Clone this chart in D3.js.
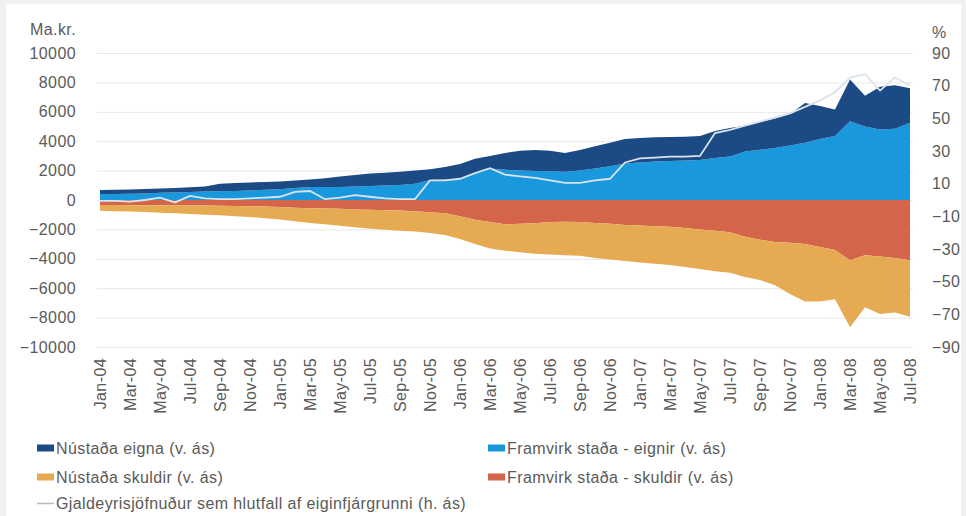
<!DOCTYPE html>
<html>
<head>
<meta charset="utf-8">
<script src="https://cdn.jsdelivr.net/npm/d3@7/dist/d3.min.js"></script>
<style>
  html, body { margin: 0; padding: 0; background: #f0f1f3; }
  svg text { font-family: "Liberation Sans", Arial, sans-serif; fill: #5a5a5a; letter-spacing: 0.4px; }
</style>
</head>
<body>
<svg id="chart" width="966" height="516"></svg>
<script>
// manaðarheiti og ár fyrir x-ás
var monthNames = ["Jan","Feb","Mar","Apr","May","Jun","Jul","Aug","Sep","Oct","Nov","Dec"];
var years = ["04","05","06","07","08"];

// Ma.kr. (v. ás)
var nustadaEigna = [280,290,290,290,290,310,320,340,500,530,540,540,530,500,520,590,720,790,850,860,910,900,
  740,880,1000,1000,850,1150,1350,1420,1400,1270,1400,1500,1600,1670,1670,1650,1630,1620,1630,1850,1940,
  1750,1880,2020,2150,2700,2250,1800,2850,2100,2900,2950,2350];
var framvirkEignir = [400,410,430,450,490,510,540,570,600,620,650,690,730,820,880,890,880,910,950,990,1020,1100,
  1360,1370,1450,1800,2150,2050,2000,1980,1950,1930,2000,2150,2300,2480,2550,2620,2650,2680,2720,2850,2960,
  3300,3420,3530,3700,3900,4150,4350,5350,5000,4800,4850,5250];
var framvirkSkuldir = [-340,-340,-350,-350,-360,-360,-370,-380,-390,-400,-420,-450,-480,-520,-560,-580,-600,-640,-670,-700,-720,-770,
  -830,-900,-1100,-1350,-1500,-1650,-1620,-1580,-1500,-1480,-1500,-1560,-1620,-1700,-1740,-1780,-1820,-1900,-2000,-2100,-2200,
  -2500,-2700,-2850,-2900,-3000,-3200,-3400,-4100,-3750,-3850,-3950,-4100];
var nustadaSkuldir = [-390,-420,-440,-470,-500,-540,-580,-620,-650,-700,-740,-790,-850,-930,-1000,-1070,-1150,-1210,-1280,-1330,-1370,-1380,
  -1420,-1480,-1550,-1650,-1800,-1800,-1930,-2070,-2200,-2270,-2300,-2390,-2430,-2450,-2510,-2550,-2600,-2650,-2700,-2750,-2750,
  -2730,-2750,-2950,-3500,-3900,-3700,-3350,-4550,-3550,-3900,-3700,-3850];
// % (h. ás)
var hlutfall = [-0.5,-0.5,-1,0,1.5,-1.5,2.5,1,0.5,0.5,1,1.5,2,5,5.5,0.5,1.5,3,2,1,0.5,0.5,
  12,12,13,16.5,19.5,15.5,14.5,13.5,12,10.5,10.5,12,13,23,25.5,26,26.5,26.5,27,41,43,
  45.5,48,50.5,53,57,61,66,75,77,67,75,70];

var leftTicks = [-10000,-8000,-6000,-4000,-2000,0,2000,4000,6000,8000,10000];
var rightTicks = [-90,-70,-50,-30,-10,10,30,50,70,90];

var months = [];
years.forEach(function(y){
  monthNames.forEach(function(m){ months.push(m + "-" + y); });
});
months = months.slice(0, nustadaEigna.length);

var rows = months.map(function(m, i){
  return {
    month: m,
    framvirkEignir: framvirkEignir[i],
    nustadaEigna: nustadaEigna[i],
    framvirkSkuldir: framvirkSkuldir[i],
    nustadaSkuldir: nustadaSkuldir[i],
    pct: hlutfall[i]
  };
});

var keys = ["framvirkEignir","nustadaEigna","framvirkSkuldir","nustadaSkuldir"];
var colors = {
  nustadaEigna: "#1c4a85",
  framvirkEignir: "#1998dd",
  nustadaSkuldir: "#e6aa52",
  framvirkSkuldir: "#d4654a"
};

var svg = d3.select("#chart");
svg.append("rect").attr("width", 966).attr("height", 516).attr("fill", "#f0f1f3");
svg.append("rect").attr("x", 6).attr("y", 4).attr("width", 955).attr("height", 512).attr("fill", "#ffffff");

var x = d3.scalePoint().domain(months).range([100, 910]);
var y = d3.scaleLinear().domain([-10000, 10000]).range([347, 53]);
var y2 = d3.scaleLinear().domain([-90, 90]).range([347, 53]);

// gridlínur
svg.append("g").selectAll("line")
  .data(leftTicks).enter().append("line")
  .attr("x1", 97).attr("x2", 913)
  .attr("y1", function(d){ return y(d) + 0.5; })
  .attr("y2", function(d){ return y(d) + 0.5; })
  .attr("stroke", "#e8e8e8").attr("stroke-width", 1);

// staflað svæði
var stack = d3.stack().keys(keys).offset(d3.stackOffsetDiverging);
var series = stack(rows);

var area = d3.area()
  .x(function(d){ return x(d.data.month); })
  .y0(function(d){ return y(d[0]); })
  .y1(function(d){ return y(d[1]); });

svg.append("g").selectAll("path")
  .data(series).enter().append("path")
  .attr("d", area)
  .attr("fill", function(d){ return colors[d.key]; });

// hlutfallslína
var line = d3.line()
  .x(function(d){ return x(d.month); })
  .y(function(d){ return y2(d.pct); });

svg.append("path")
  .datum(rows)
  .attr("d", line)
  .attr("fill", "none")
  .attr("stroke", "#dbe3ea")
  .attr("stroke-width", 1.8);

// ásar
var leftAxis = svg.append("g")
  .attr("transform", "translate(78,0)")
  .call(d3.axisLeft(y).tickValues(leftTicks).tickSize(0).tickPadding(2).tickFormat(d3.format("d")));
leftAxis.select(".domain").remove();

var rightAxis = svg.append("g")
  .attr("transform", "translate(930,0)")
  .call(d3.axisRight(y2).tickValues(rightTicks).tickSize(0).tickPadding(2).tickFormat(d3.format("d")));
rightAxis.select(".domain").remove();

svg.selectAll(".tick text").attr("font-size", 16).attr("fill", "#5a5a5a");

svg.append("text").attr("x", 76).attr("y", 29).attr("dy", "0.35em")
  .attr("text-anchor", "end").attr("font-size", 16).text("Ma.kr.");
svg.append("text").attr("x", 932).attr("y", 32).attr("dy", "0.35em")
  .attr("font-size", 16).text("%");

// x-ás merkingar
svg.append("g").selectAll("text")
  .data(months.filter(function(m, i){ return i % 2 === 0; }))
  .enter().append("text")
  .attr("transform", function(d){ return "translate(" + x(d) + ",358) rotate(-90)"; })
  .attr("dy", "0.35em")
  .attr("text-anchor", "end")
  .attr("font-size", 16)
  .text(function(d){ return d; });

// skýringar
var legendItems = [
  {key: "nustadaEigna", label: "Nústaða eigna (v. ás)", x: 37, y: 448},
  {key: "framvirkEignir", label: "Framvirk staða - eignir (v. ás)", x: 488, y: 448},
  {key: "nustadaSkuldir", label: "Nústaða skuldir (v. ás)", x: 37, y: 477},
  {key: "framvirkSkuldir", label: "Framvirk staða - skuldir (v. ás)", x: 488, y: 477}
];

var legend = svg.append("g");
legendItems.forEach(function(it){
  legend.append("rect")
    .attr("x", it.x).attr("y", it.y - 3.5)
    .attr("width", 17).attr("height", 7)
    .attr("fill", colors[it.key]);
  legend.append("text")
    .attr("x", it.x + 19).attr("y", it.y).attr("dy", "0.35em")
    .attr("font-size", 16)
    .text(it.label);
});
legend.append("line")
  .attr("x1", 37).attr("x2", 54).attr("y1", 503.5).attr("y2", 503.5)
  .attr("stroke", "#b9b9b9").attr("stroke-width", 1.5);
legend.append("text")
  .attr("x", 56).attr("y", 503).attr("dy", "0.35em")
  .attr("font-size", 16)
  .text("Gjaldeyrisjöfnuður sem hlutfall af eiginfjárgrunni (h. ás)");
</script>
</body>
</html>
